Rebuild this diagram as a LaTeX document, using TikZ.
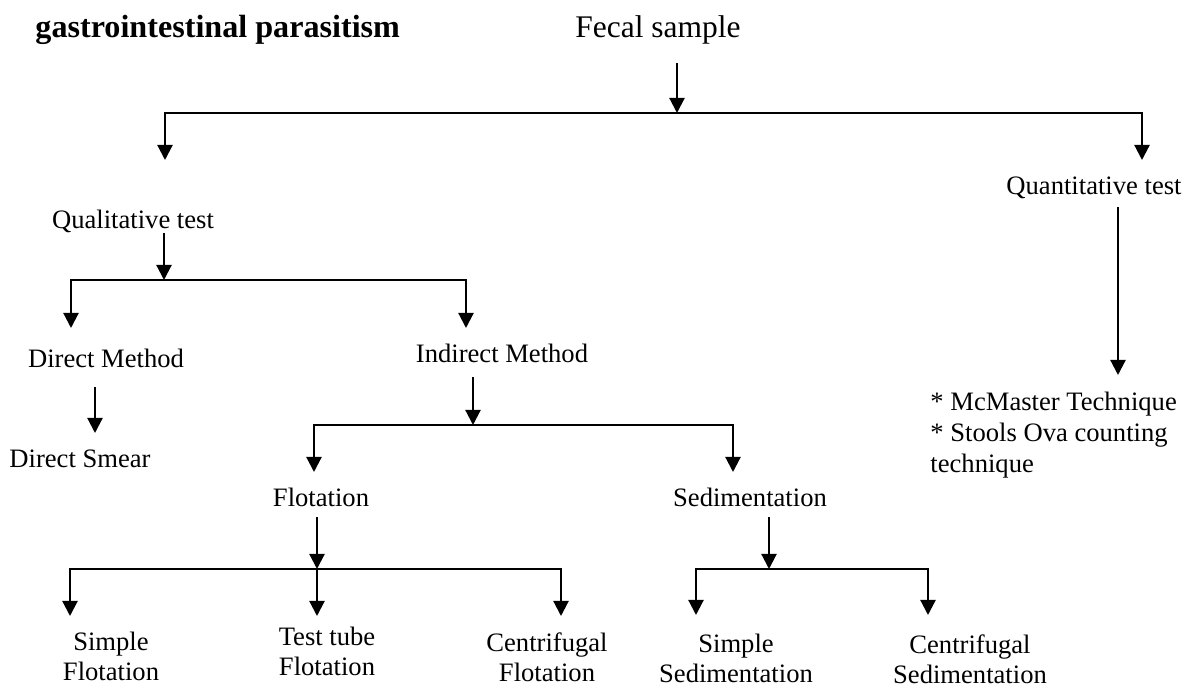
\documentclass[tikz,border=0pt]{standalone}
\usepackage{fontspec}
\setmainfont{Liberation Serif}
\usepackage{tikz}
\usetikzlibrary{arrows.meta}

\begin{document}
\begin{tikzpicture}[x=0.4511pt, y=-0.4511pt,
    txt/.style={font=\fontsize{12}{13.5}\selectfont, anchor=base, inner sep=0pt},
    big/.style={font=\fontsize{14.2}{16}\selectfont, anchor=base, inner sep=0pt},
    two/.style={txt, anchor=north, align=center},
    arr/.style={line width=1pt, -{Triangle[length=6.8pt, width=6.8pt]}}]
  \useasboundingbox (0,0) rectangle (1190,687);

  % labels
  \node[big, font=\fontsize{14.5}{16}\selectfont\bfseries, anchor=base west] (title) at (35,38) {gastrointestinal parasitism};
  \node[big] (fecal) at (658,38) {Fecal sample};
  \node[txt] (qual) at (133,229) {Qualitative test};
  \node[txt] (quant) at (1094,195) {Quantitative test};
  \node[txt] (direct) at (106,368) {Direct Method};
  \node[txt] (indirect) at (502,363) {Indirect Method};
  \node[txt] (smear) at (80,468) {Direct Smear};
  \node[txt] (flot) at (321,507) {Flotation};
  \node[txt] (sedi) at (750,507) {Sedimentation};
  \node[two] (sflot) at (111,632) {Simple\\Flotation};
  \node[two] (tflot) at (327,627) {Test tube\\Flotation};
  \node[two] (cflot) at (547,632) {Centrifugal\\Flotation};
  \node[two] (ssed) at (736,634) {Simple\\Sedimentation};
  \node[two] (csed) at (970,634) {Centrifugal\\Sedimentation};
  \node[txt, font=\fontsize{12}{14}\selectfont, anchor=north west, align=left] (mcm) at (930,392)
    {* McMaster Technique\\* Stools Ova counting\\technique};

  % branch points
  \coordinate (f0) at (677,63);   \coordinate (f1) at (677,113);
  \coordinate (qlt) at (165,160); \coordinate (qnt) at (1142,160);
  \coordinate (q0) at (164,233);  \coordinate (q1) at (164,280);
  \coordinate (dmt) at (71,328);  \coordinate (imt) at (466,328);
  \coordinate (d0) at (95,387);   \coordinate (d1) at (95,433);
  \coordinate (i0) at (473,377);  \coordinate (i1) at (473,425);
  \coordinate (flt) at (314,472); \coordinate (set) at (733,472);
  \coordinate (l0) at (317,517);  \coordinate (l1) at (317,569);
  \coordinate (lt1) at (70,616);  \coordinate (lt2) at (317,616);
  \coordinate (lt3) at (561,616);
  \coordinate (s0) at (769,517);  \coordinate (s1) at (769,569);
  \coordinate (st1) at (696,615); \coordinate (st2) at (928,615);
  \coordinate (n0) at (1118,207); \coordinate (n1) at (1118,375);

  % arrows
  \draw[arr] (f0) -- (f1);
  \foreach \t in {qlt, qnt} \draw[arr] (f1) -| (\t);
  \draw[arr] (q0) -- (q1);
  \foreach \t in {dmt, imt} \draw[arr] (q1) -| (\t);
  \draw[arr] (d0) -- (d1);
  \draw[arr] (i0) -- (i1);
  \foreach \t in {flt, set} \draw[arr] (i1) -| (\t);
  \draw[arr] (l0) -- (l1);
  \foreach \t in {lt1, lt3} \draw[arr] (l1) -| (\t);
  \draw[arr] (l1) -- (lt2);
  \draw[arr] (s0) -- (s1);
  \foreach \t in {st1, st2} \draw[arr] (s1) -| (\t);
  \draw[arr] (n0) -- (n1);
\end{tikzpicture}
\end{document}
